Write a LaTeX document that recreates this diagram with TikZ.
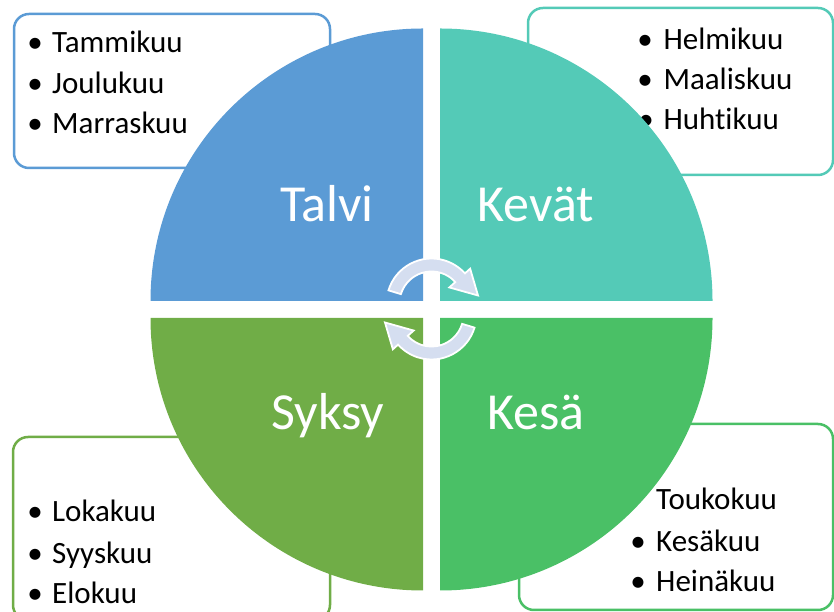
\documentclass[tikz,border=0pt]{standalone}
\usepackage{fontspec}
\setmainfont{Carlito}[RawFeature={-liga;-dlig}]
\definecolor{cwinter}{HTML}{5B9BD5}
\definecolor{cspring}{HTML}{54CAB7}
\definecolor{cautumn}{HTML}{70AD47}
\definecolor{csummer}{HTML}{4AC066}
\definecolor{carrow}{HTML}{D5DEF0}
\tikzset{
  monthbox/.style={draw, line width=2.5pt, rounded corners=15pt, fill=white, inner sep=0pt},
  month/.style={anchor=base west, inner sep=0pt, font=\fontsize{31}{37}\selectfont},
  bul/.style={anchor=base, inner sep=0pt, font=\fontsize{31}{37}\selectfont},
  season/.style={anchor=base, inner sep=0pt, text=white, font=\fontsize{52}{60}\selectfont},
  cyclearrow/.style={fill=carrow, draw=white, line width=1.8pt, line join=miter}
}
\begin{document}
\begin{tikzpicture}[x=1pt,y=1pt]
\useasboundingbox (0,0) rectangle (834,612);
\clip (0,0) rectangle (834,612);
% boxes
\node[monthbox, draw=cwinter, minimum width=316pt, minimum height=154pt] (bw) at (172,521) {};
\node[monthbox, draw=cspring, minimum width=305pt, minimum height=167pt] (bs) at (680.5,520.5) {};
\node[monthbox, draw=cautumn, minimum width=317pt, minimum height=183pt] (ba) at (171.5,83.5) {};
\node[monthbox, draw=csummer, minimum width=314pt, minimum height=186pt] (bu) at (676,95) {};
% winter months
\node[bul] (w1b) at (35,559) {•}; \node[month] (w1) at (52,559) {Tammikuu};
\node[bul] (w2b) at (35,518.5) {•}; \node[month] (w2) at (52,518.5) {Joulukuu};
\node[bul] (w3b) at (35,478) {•}; \node[month] (w3) at (52,478) {Marraskuu};
% spring months
\node[bul] (s1b) at (645,562.7) {•}; \node[month] (s1) at (663.3,562.7) {Helmikuu};
\node[bul] (s2b) at (645,522) {•}; \node[month] (s2) at (663.3,522) {Maaliskuu};
\node[bul] (s3b) at (646,482) {•}; \node[month] (s3) at (663.3,482) {Huhtikuu};
% autumn months
\node[bul] (a1b) at (35,90.3) {•}; \node[month] (a1) at (52,90.3) {Lokakuu};
\node[bul] (a2b) at (35,48.7) {•}; \node[month] (a2) at (52,48.7) {Syyskuu};
\node[bul] (a3b) at (35,8.7) {•}; \node[month] (a3) at (52,8.7) {Elokuu};
% summer months
\node[bul] (u1b) at (630,102) {•}; \node[month] (u1) at (656,102) {Toukokuu};
\node[bul] (u2b) at (638,60.3) {•}; \node[month] (u2) at (656,60.3) {Kesäkuu};
\node[bul] (u3b) at (638,20.3) {•}; \node[month] (u3) at (656,20.3) {Heinäkuu};
% quadrants
\fill[cwinter] (423,311) -- ++(-272.5,0) arc[start angle=180, end angle=90, radius=272.5] -- cycle;
\fill[cspring] (440,311) -- ++(0,272.5) arc[start angle=90, end angle=0, radius=272.5] -- cycle;
\fill[cautumn] (423,294) -- ++(0,-272.5) arc[start angle=270, end angle=180, radius=272.5] -- cycle;
\fill[csummer] (440,294) -- ++(272.5,0) arc[start angle=0, end angle=-90, radius=272.5] -- cycle;
% season labels
\node[season] (talvi) at (327,390) {Talvi};
\node[season] (kevat) at (536,390) {Kevät};
\node[season] (syksy) at (328,182) {Syksy};
\node[season] (kesa) at (536,182) {Kesä};
% cycle arrows
\begin{scope}[shift={(431.5,308.5)}]
\path[cyclearrow] (163:45) arc[start angle=163, end angle=42, radius=45] -- (42:52) -- (46.5,8) -- (42:24) -- (42:32) arc[start angle=42, end angle=163, radius=32] -- cycle;
\end{scope}
\begin{scope}[shift={(431.5,297.5)}, rotate=180]
\path[cyclearrow] (163:45) arc[start angle=163, end angle=42, radius=45] -- (42:52) -- (46.5,8) -- (42:24) -- (42:32) arc[start angle=42, end angle=163, radius=32] -- cycle;
\end{scope}
\end{tikzpicture}
\end{document}
